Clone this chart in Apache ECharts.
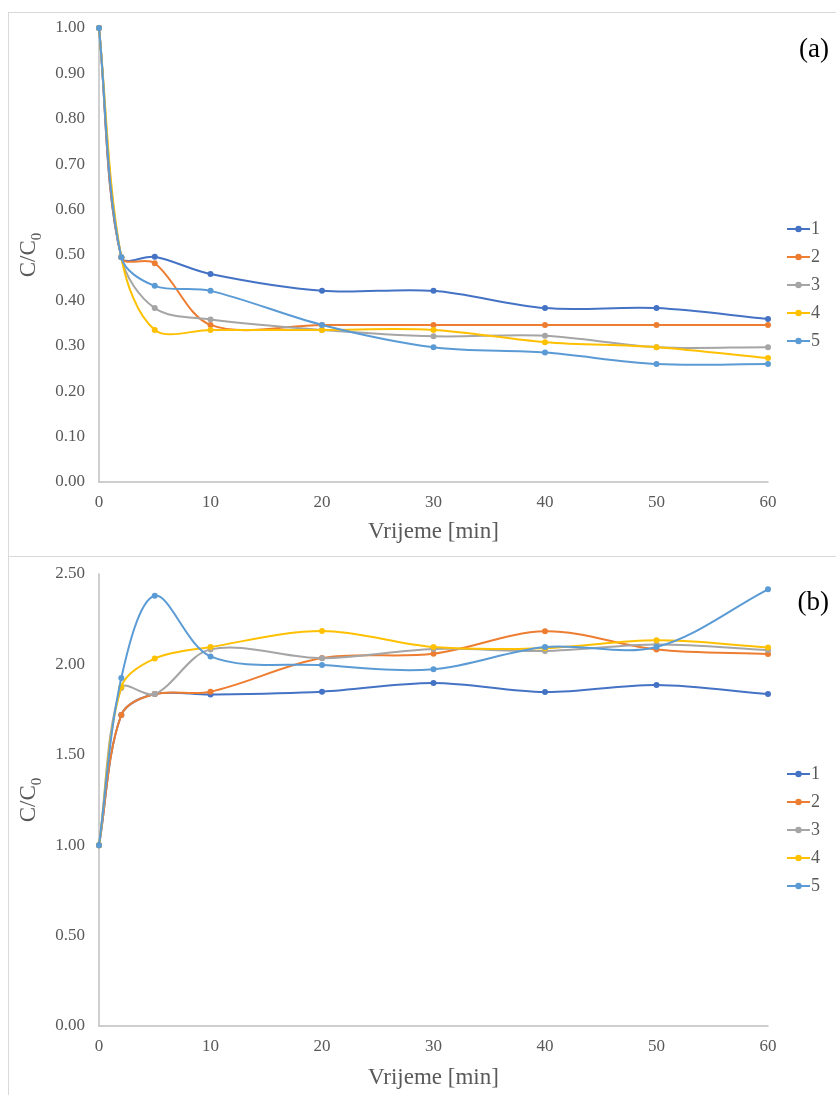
<!DOCTYPE html>
<html>
<head>
<meta charset="utf-8">
<script src="https://cdn.jsdelivr.net/npm/echarts@6/dist/echarts.min.js"></script>
<style>
  html, body { margin: 0; padding: 0; background: #fff; }
  #chart { width: 836px; height: 1095px; }
</style>
</head>
<body>
<div id="chart"></div>
<script>
// ---- Data ----
const timeMin = [0, 2, 5, 10, 20, 30, 40, 50, 60];
const seriesNames = ['1', '2', '3', '4', '5'];

// Panel (a)
const a1 = [1.00, 0.495, 0.496, 0.458, 0.421, 0.421, 0.383, 0.383, 0.359];
const a2 = [1.00, 0.495, 0.482, 0.346, 0.346, 0.346, 0.346, 0.346, 0.346];
const a3 = [1.00, 0.495, 0.383, 0.358, 0.335, 0.321, 0.322, 0.297, 0.297];
const a4 = [1.00, 0.495, 0.335, 0.335, 0.335, 0.335, 0.308, 0.297, 0.273];
const a5 = [1.00, 0.495, 0.432, 0.421, 0.346, 0.297, 0.285, 0.260, 0.260];

// Panel (b)
const b1 = [1.00, 1.72, 1.836, 1.833, 1.849, 1.897, 1.847, 1.886, 1.836];
const b2 = [1.00, 1.72, 1.836, 1.849, 2.035, 2.059, 2.183, 2.083, 2.057];
const b3 = [1.00, 1.87, 1.836, 2.083, 2.034, 2.085, 2.074, 2.110, 2.080];
const b4 = [1.00, 1.875, 2.032, 2.096, 2.185, 2.096, 2.090, 2.133, 2.094];
const b5 = [1.00, 1.925, 2.380, 2.044, 1.996, 1.973, 2.096, 2.096, 2.415];

const yTicksA = { min: 0, max: 1, interval: 0.1 };
const yTicksB = { min: 0, max: 2.5, interval: 0.5 };
const xTicks = { min: 0, max: 60, interval: 10 };
const panelLabels = ['(a)', '(b)'];
const xTitle = 'Vrijeme [min]';

// ---- Styling ----
const colors = ['#4472C4', '#ED7D31', '#A5A5A5', '#FFC000', '#5B9BD5'];
const FONT = '"Liberation Serif", "Times New Roman", serif';
const TXT = '#595959';
const SMOOTH = 1 / 3;

const chart = echarts.init(document.getElementById('chart'), null, { renderer: 'canvas' });

function pairs(vals) { return timeMin.map((t, i) => [t, vals[i]]); }

// Smoothed curve through the points (length-weighted cardinal spline),
// positioned through the chart's own coordinate system via api.coord.
function curveSeries(vals, i, gridIdx) {
  return {
    name: seriesNames[i],
    type: 'custom',
    xAxisIndex: gridIdx,
    yAxisIndex: gridIdx,
    data: pairs(vals),
    silent: true,
    z: 2 + i * 2,
    renderItem: function (params, api) {
      if (params.dataIndex !== 0) return;
      const P = vals.map((v, k) => api.coord([timeMin[k], v]));
      const n = P.length;
      const dist = (p, q) => Math.hypot(q[0] - p[0], q[1] - p[1]);
      const cin = [], cout = [];
      for (let k = 0; k < n; k++) {
        const prev = P[Math.max(0, k - 1)], next = P[Math.min(n - 1, k + 1)], cur = P[k];
        const vx = next[0] - prev[0], vy = next[1] - prev[1];
        const lp = dist(prev, cur), ln = dist(cur, next);
        const r = (lp + ln) > 0 ? ln / (lp + ln) : 0.5;
        cin[k] = [cur[0] - vx * SMOOTH * (1 - r), cur[1] - vy * SMOOTH * (1 - r)];
        cout[k] = [cur[0] + vx * SMOOTH * r, cur[1] + vy * SMOOTH * r];
      }
      let d = 'M' + P[0][0] + ' ' + P[0][1];
      for (let k = 0; k < n - 1; k++) {
        d += ' C' + cout[k][0] + ' ' + cout[k][1] + ' ' + cin[k + 1][0] + ' ' + cin[k + 1][1] + ' ' + P[k + 1][0] + ' ' + P[k + 1][1];
      }
      return {
        type: 'path',
        shape: { pathData: d },
        style: { stroke: colors[i], fill: 'none', lineWidth: 2 }
      };
    }
  };
}

function markerSeries(vals, i, gridIdx) {
  return {
    name: seriesNames[i],
    type: 'line',
    xAxisIndex: gridIdx,
    yAxisIndex: gridIdx,
    data: pairs(vals),
    symbol: 'circle',
    symbolSize: 6,
    color: colors[i],
    lineStyle: { width: 2, color: colors[i], opacity: 0 },
    itemStyle: { color: colors[i] },
    emphasis: { disabled: true },
    silent: true,
    z: 3 + i * 2
  };
}

function mkSeries(valsArr, gridIdx) {
  const out = [];
  valsArr.forEach((vals, i) => out.push(markerSeries(vals, i, gridIdx)));
  valsArr.forEach((vals, i) => out.push(curveSeries(vals, i, gridIdx)));
  return out;
}

function xAxisCfg(gridIdx, gap) {
  return {
    type: 'value', gridIndex: gridIdx,
    min: xTicks.min, max: xTicks.max, interval: xTicks.interval,
    name: xTitle, nameLocation: 'middle', nameGap: gap,
    nameTextStyle: { fontFamily: FONT, fontSize: 23, color: TXT },
    axisLine: { show: true, onZero: false, lineStyle: { color: '#BFBFBF', width: 1.5 } },
    axisTick: { show: false },
    splitLine: { show: false },
    axisLabel: { fontFamily: FONT, fontSize: 17, color: TXT, margin: 12 }
  };
}

function yAxisCfg(gridIdx, t) {
  return {
    type: 'value', gridIndex: gridIdx,
    min: t.min, max: t.max, interval: t.interval,
    name: '{m|C/C}{s|0}', nameLocation: 'middle', nameGap: 49, nameRotate: 90,
    nameTextStyle: {
      fontFamily: FONT, color: TXT,
      rich: {
        m: { fontFamily: FONT, fontSize: 23, color: TXT, lineHeight: 28, verticalAlign: 'bottom' },
        s: { fontFamily: FONT, fontSize: 15, color: TXT, lineHeight: 28, verticalAlign: 'bottom', padding: [0, 0, -4, 0] }
      }
    },
    axisLine: { show: true, lineStyle: { color: '#BFBFBF', width: 1.5 } },
    axisTick: { show: false },
    splitLine: { show: false },
    axisLabel: { fontFamily: FONT, fontSize: 17, color: TXT, margin: 14, formatter: v => v.toFixed(2) }
  };
}

function legendCfg(firstY) {
  return {
    data: seriesNames,
    orient: 'vertical',
    left: 786,
    top: firstY - 9,
    padding: 0,
    itemWidth: 23,
    itemHeight: 8,
    itemGap: 10,
    selectedMode: false,
    lineStyle: { opacity: 1 },
    textStyle: { fontFamily: FONT, fontSize: 18, color: TXT, padding: [0, 0, 0, -4] }
  };
}

const option = {
  backgroundColor: '#fff',
  animation: false,
  grid: [
    { left: 99, right: 68, top: 28, height: 454 },
    { left: 99, right: 68, top: 574, height: 452 }
  ],
  title: [
    { text: panelLabels[0], right: 2, top: 31, textStyle: { fontFamily: FONT, fontSize: 27, fontWeight: 'normal', color: '#000' } },
    { text: panelLabels[1], right: 2, top: 584, textStyle: { fontFamily: FONT, fontSize: 27, fontWeight: 'normal', color: '#000' } }
  ],
  legend: [legendCfg(229), legendCfg(774)],
  xAxis: [xAxisCfg(0, 38), xAxisCfg(1, 40)],
  yAxis: [yAxisCfg(0, yTicksA), yAxisCfg(1, yTicksB)],
  series: [].concat(mkSeries([a1, a2, a3, a4, a5], 0), mkSeries([b1, b2, b3, b4, b5], 1)),
  graphic: [
    { type: 'line', shape: { x1: 8, y1: 12.5, x2: 836, y2: 12.5 }, style: { stroke: '#D9D9D9', lineWidth: 1 }, silent: true },
    { type: 'line', shape: { x1: 8.5, y1: 12, x2: 8.5, y2: 1095 }, style: { stroke: '#D9D9D9', lineWidth: 1 }, silent: true },
    { type: 'line', shape: { x1: 8, y1: 556.5, x2: 836, y2: 556.5 }, style: { stroke: '#D9D9D9', lineWidth: 1 }, silent: true }
  ]
};

chart.setOption(option);
</script>
</body>
</html>
